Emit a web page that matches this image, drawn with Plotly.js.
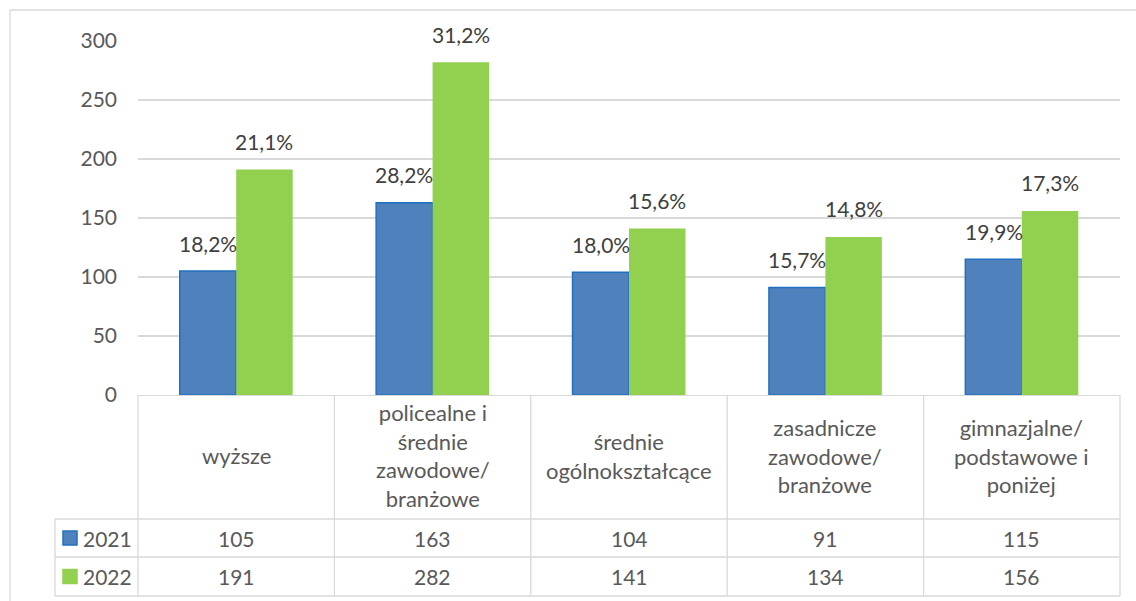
<!DOCTYPE html>
<html>
<head>
<meta charset="utf-8">
<script src="https://cdn.plot.ly/plotly-3.0.1.min.js"></script>
<style>html,body{margin:0;padding:0;background:#fff;}#chart{width:1136px;height:601px;}</style>
</head>
<body>
<div id="chart"></div>
<script>
// ---- data ----
const categories = [
  ['wyższe'],
  ['policealne i', 'średnie', 'zawodowe/', 'branżowe'],
  ['średnie', 'ogólnokształcące'],
  ['zasadnicze', 'zawodowe/', 'branżowe'],
  ['gimnazjalne/', 'podstawowe i', 'poniżej']
];
const seriesNames = ['2021', '2022'];
const values2021 = [105, 163, 104, 91, 115];
const values2022 = [191, 282, 141, 134, 156];
const pct2021 = ['18,2%', '28,2%', '18,0%', '15,7%', '19,9%'];
const pct2022 = ['21,1%', '31,2%', '15,6%', '14,8%', '17,3%'];
const yTicks = [0, 50, 100, 150, 200, 250, 300];

// ---- styling ----
const W = 1136, H = 601;
const M = {l: 138, r: 16, t: 41, b: 206};
const plotW = W - M.l - M.r, plotH = H - M.t - M.b;
const FONT = 'Lato, "Open Sans", sans-serif';
const TXT = '#595959';
const GRID = '#D9D9D9';
const BLUE = '#4F81BD', BLUE_EDGE = '#1F70C1', GREEN = '#92D050';
const n = categories.length;
const bargap = 0.425;
const barW = (1 - bargap) / 2;

// pixel -> paper helpers
const py = y => (H - M.b - y) / plotH;
const px = x => (x - M.l) / plotW;

const yHeaderBottom = 519, yRow1Bottom = 557, yRow2Bottom = 596, yAxisPix = H - M.b;
const legendLeft = 55;

const shapes = [];
const annotations = [];
function line(x0, y0, x1, y1, w, c) {
  shapes.push({type: 'line', xref: 'paper', yref: 'paper', x0: x0, y0: y0, x1: x1, y1: y1,
    line: {color: c || GRID, width: w || 1.3}});
}
// table horizontal lines
[yHeaderBottom, yRow1Bottom, yRow2Bottom].forEach(y => line(px(legendLeft), py(y), 1, py(y)));
// table vertical lines
for (let i = 0; i <= n; i++) line(i / n, py(yAxisPix), i / n, py(yRow2Bottom));
line(px(legendLeft), py(yHeaderBottom), px(legendLeft), py(yRow2Bottom));
// outer chart border (top and left)
line(px(10), py(10), px(W + 5), py(10), 1.3);
line(px(10), py(10), px(10), py(H + 5), 1.3);

// legend keys in table
const rowCenters = [(yHeaderBottom + yRow1Bottom) / 2, (yRow1Bottom + yRow2Bottom) / 2];
const keyColors = [[BLUE, BLUE_EDGE], [GREEN, GREEN]];
seriesNames.forEach((s, k) => {
  const yc = rowCenters[k];
  shapes.push({type: 'rect', xref: 'paper', yref: 'paper',
    x0: px(63), x1: px(77), y0: py(yc + 7), y1: py(yc - 7),
    fillcolor: keyColors[k][0], line: {color: keyColors[k][1], width: 1.5}});
  annotations.push({xref: 'paper', yref: 'paper', x: px(81), y: py(yc), xanchor: 'left', yanchor: 'middle',
    text: s, showarrow: false, font: {family: FONT, size: 21, color: TXT}});
});

// category header and values
const tableVals = [values2021, values2022];
categories.forEach((c, i) => {
  annotations.push({xref: 'paper', yref: 'paper', x: (i + 0.5) / n, y: py((yAxisPix + yHeaderBottom) / 2 - 1),
    xanchor: 'center', yanchor: 'middle', align: 'center', showarrow: false,
    text: c.join('<br>'), font: {family: FONT, size: 22, color: TXT}});
  tableVals.forEach((vals, k) => {
    annotations.push({xref: 'paper', yref: 'paper', x: (i + 0.5) / n, y: py(rowCenters[k]),
      xanchor: 'center', yanchor: 'middle', showarrow: false,
      text: String(vals[i]), font: {family: FONT, size: 21, color: TXT}});
  });
});

// percent labels above bars
[[values2021, pct2021, -barW / 2], [values2022, pct2022, barW / 2]].forEach(([vals, pcts, off]) => {
  vals.forEach((v, i) => {
    annotations.push({xref: 'x', yref: 'y', x: i + off, y: v, yshift: 28,
      xanchor: 'center', yanchor: 'middle', showarrow: false,
      text: pcts[i], font: {family: FONT, size: 21, color: '#404040'}});
  });
});

const idx = categories.map((_, i) => i);
const traces = [
  {type: 'bar', x: idx, y: values2021, name: seriesNames[0],
   marker: {color: BLUE, line: {color: BLUE_EDGE, width: 1.5}}, hoverinfo: 'skip'},
  {type: 'bar', x: idx, y: values2022, name: seriesNames[1],
   marker: {color: GREEN, line: {color: GREEN, width: 0}}, hoverinfo: 'skip'}
];

const layout = {
  width: W, height: H,
  margin: M,
  paper_bgcolor: '#fff', plot_bgcolor: '#fff',
  showlegend: false,
  barmode: 'group', bargap: bargap, bargroupgap: 0,
  font: {family: FONT, size: 21, color: TXT},
  xaxis: {range: [-0.5, n - 0.5], showticklabels: false, showgrid: false, zeroline: false,
    showline: true, linecolor: GRID, linewidth: 1.3, ticks: '', fixedrange: true},
  yaxis: {range: [0, 300], tickvals: yTicks, ticktext: yTicks.map(String), showgrid: true,
    gridcolor: GRID, gridwidth: 1.3, zeroline: false, showline: false, ticks: '',
    ticklabelstandoff: 20, tickfont: {family: FONT, size: 21, color: TXT}, fixedrange: true},
  shapes: shapes,
  annotations: annotations
};

Plotly.newPlot('chart', traces, layout, {displayModeBar: false, staticPlot: true});
</script>
</body>
</html>
